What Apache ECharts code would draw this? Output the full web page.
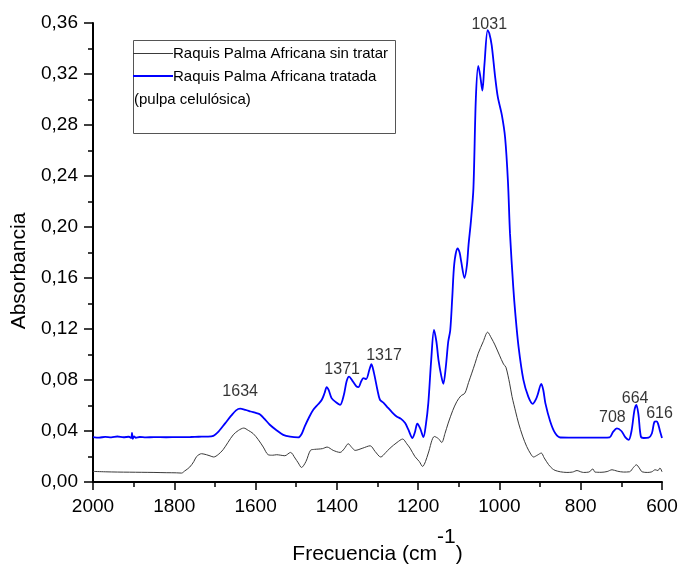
<!DOCTYPE html>
<html>
<head>
<meta charset="utf-8">
<script src="https://cdn.jsdelivr.net/npm/echarts@6/dist/echarts.min.js"></script>
<style>
  html, body { margin: 0; padding: 0; background: #fff; }
  #chart { width: 678px; height: 566px; }
</style>
</head>
<body>
<div id="chart"></div>
<script>
// FTIR spectra of African palm rachis, untreated vs treated (cellulose pulp)

// Untreated sample: wavenumber (cm-1) and absorbance
const untreatedWn = [2000, 1970, 1940, 1910, 1880, 1850, 1820, 1795, 1782, 1775, 1762, 1752, 1745, 1733, 1721, 1712, 1703, 1692, 1680, 1668, 1655, 1642, 1629, 1618, 1606, 1594, 1581, 1569, 1558, 1548, 1538, 1528, 1514, 1503, 1495, 1487, 1476, 1465, 1455, 1446, 1435, 1424, 1409, 1392, 1382, 1372, 1363, 1355, 1336, 1318, 1306, 1292, 1280, 1269, 1252, 1238, 1228, 1220, 1208, 1197, 1189, 1182, 1175, 1160, 1150, 1142, 1134, 1126, 1115, 1105, 1095, 1085, 1076, 1068, 1060, 1052, 1040, 1029, 1020, 1011, 1000, 990, 984, 975, 969, 960, 953, 943, 933, 923, 916, 907, 897, 890, 879, 870, 863, 850, 834, 820, 809, 800, 793, 780, 770, 765, 750, 735, 723, 710, 695, 680, 670, 663, 656, 649, 635, 625, 617, 610, 605, 600];
const untreatedAbs = [0.0083, 0.0080, 0.0078, 0.0077, 0.0076, 0.0075, 0.0073, 0.0072, 0.0070, 0.0085, 0.0117, 0.0160, 0.0200, 0.0222, 0.0214, 0.0205, 0.0196, 0.0215, 0.0253, 0.0310, 0.0370, 0.0405, 0.0423, 0.0405, 0.0380, 0.0335, 0.0274, 0.0214, 0.0210, 0.0214, 0.0210, 0.0206, 0.0232, 0.0188, 0.0150, 0.0114, 0.0161, 0.0248, 0.0256, 0.0258, 0.0262, 0.0274, 0.0248, 0.0232, 0.0260, 0.0300, 0.0270, 0.0248, 0.0266, 0.0284, 0.0240, 0.0196, 0.0230, 0.0266, 0.0310, 0.0337, 0.0300, 0.0266, 0.0200, 0.0160, 0.0122, 0.0160, 0.0227, 0.0357, 0.0340, 0.0310, 0.0380, 0.0462, 0.0560, 0.0630, 0.0675, 0.0697, 0.0780, 0.0854, 0.0930, 0.1010, 0.1100, 0.1175, 0.1130, 0.1075, 0.0995, 0.0925, 0.0900, 0.0775, 0.0670, 0.0550, 0.0462, 0.0360, 0.0279, 0.0220, 0.0196, 0.0210, 0.0227, 0.0190, 0.0136, 0.0105, 0.0091, 0.0080, 0.0075, 0.0078, 0.0090, 0.0080, 0.0075, 0.0078, 0.0102, 0.0078, 0.0076, 0.0082, 0.0096, 0.0085, 0.0078, 0.0080, 0.0115, 0.0135, 0.0110, 0.0080, 0.0075, 0.0080, 0.0096, 0.0090, 0.0110, 0.0080];

// Treated sample (cellulose pulp): wavenumber (cm-1) and absorbance
const treatedWn = [2000, 1985, 1970, 1955, 1940, 1925, 1912, 1906, 1904, 1902, 1899, 1895, 1885, 1870, 1850, 1820, 1790, 1760, 1740, 1720, 1704, 1690, 1675, 1660, 1648, 1638, 1625, 1612, 1598, 1589, 1578, 1565, 1550, 1532, 1515, 1495, 1487, 1479, 1468, 1458, 1446, 1437, 1430, 1425, 1420, 1413, 1402, 1392, 1383, 1376, 1370, 1362, 1352, 1347, 1340, 1335, 1328, 1320, 1315, 1309, 1300, 1294, 1285, 1277, 1265, 1253, 1242, 1232, 1224, 1214, 1208, 1202, 1195, 1187, 1181, 1175, 1168, 1161, 1155, 1150, 1143, 1138, 1132, 1126, 1121, 1116, 1111, 1103, 1098, 1094, 1086, 1080, 1076, 1070, 1064, 1058, 1052, 1047, 1042, 1037, 1029, 1025, 1019, 1011, 1004, 994, 986, 979, 974, 966, 961, 953, 941, 929, 918, 910, 906, 897, 892, 887, 875, 863, 850, 830, 800, 770, 745, 729, 720, 711, 700, 690, 682, 675, 668, 663, 658, 652, 645, 633, 625, 619, 614, 610, 605, 600];
const treatedAbs = [0.0352, 0.0348, 0.0354, 0.0350, 0.0357, 0.0351, 0.0355, 0.0345, 0.0385, 0.0338, 0.0358, 0.0347, 0.0353, 0.0350, 0.0352, 0.0351, 0.0352, 0.0353, 0.0355, 0.0356, 0.0362, 0.0400, 0.0460, 0.0520, 0.0562, 0.0575, 0.0566, 0.0553, 0.0540, 0.0530, 0.0495, 0.0449, 0.0410, 0.0370, 0.0355, 0.0350, 0.0375, 0.0436, 0.0510, 0.0566, 0.0610, 0.0645, 0.0700, 0.0744, 0.0720, 0.0658, 0.0625, 0.0605, 0.0680, 0.0790, 0.0827, 0.0795, 0.0750, 0.0744, 0.0790, 0.0815, 0.0807, 0.0880, 0.0924, 0.0860, 0.0720, 0.0645, 0.0620, 0.0592, 0.0550, 0.0514, 0.0495, 0.0462, 0.0410, 0.0345, 0.0390, 0.0457, 0.0420, 0.0352, 0.0450, 0.0619, 0.0950, 0.1193, 0.1100, 0.0958, 0.0830, 0.0770, 0.0900, 0.1100, 0.1190, 0.1450, 0.1715, 0.1833, 0.1800, 0.1728, 0.1600, 0.1700, 0.1860, 0.2050, 0.2303, 0.3008, 0.3263, 0.3180, 0.3070, 0.3269, 0.3543, 0.3520, 0.3425, 0.3190, 0.3020, 0.2877, 0.2700, 0.2355, 0.1950, 0.1530, 0.1324, 0.1062, 0.0801, 0.0670, 0.0613, 0.0650, 0.0684, 0.0770, 0.0720, 0.0619, 0.0475, 0.0384, 0.0349, 0.0348, 0.0348, 0.0348, 0.0348, 0.0350, 0.0395, 0.0420, 0.0400, 0.0350, 0.0331, 0.0400, 0.0560, 0.0605, 0.0530, 0.0357, 0.0345, 0.0348, 0.0380, 0.0470, 0.0475, 0.0460, 0.0400, 0.0345];

// Peak annotations: text and where it sits (wavenumber, absorbance)
const peakText = ['1634', '1371', '1317', '1031', '708', '664', '616'];
const peakTextWn = [1638, 1387, 1284, 1025, 722, 666, 606];
const peakTextAbs = [0.0710, 0.0880, 0.0995, 0.3587, 0.0509, 0.0658, 0.0533];

// Axis ranges and ticks
const xMin = 600, xMax = 2000, xStep = 200;
const yMin = 0, yMax = 0.36, yStep = 0.04;

const seriesNames = ['Raquis Palma Africana sin tratar', 'Raquis Palma Africana tratada', '(pulpa celulósica)'];

const FONT = 'Liberation Sans, Arial, sans-serif';

const pair = (xs, ys) => xs.map((x, i) => [x, ys[i]]);

const chart = echarts.init(document.getElementById('chart'), null, { renderer: 'canvas' });

chart.setOption({
  backgroundColor: '#ffffff',
  animation: false,
  grid: { left: 93, right: 16, top: 23, bottom: 84, containLabel: false, outerBoundsMode: 'none' },
  xAxis: {
    type: 'value',
    inverse: true,
    min: xMin, max: xMax, interval: xStep,
    name: '{a|Frecuencia (cm}{s|-1}{a|)}',
    nameLocation: 'middle',
    nameGap: 45,
    nameTextStyle: {
      rich: {
        a: { fontFamily: FONT, fontSize: 21, color: '#000', verticalAlign: 'bottom' },
        s: { fontFamily: FONT, fontSize: 21, color: '#000', verticalAlign: 'top', padding: [0, 0, 17, 0] }
      }
    },
    axisLine: { show: true, onZero: false, lineStyle: { color: '#000', width: 2 } },
    axisTick: { show: true, inside: false, length: 8, lineStyle: { color: '#000', width: 1.5 } },
    minorTick: { show: true, splitNumber: 2, length: 5, lineStyle: { color: '#000', width: 1.5 } },
    splitLine: { show: false },
    axisLabel: {
      fontFamily: FONT, fontSize: 19, color: '#000', margin: 15,
      formatter: v => String(v)
    }
  },
  yAxis: {
    type: 'value',
    min: yMin, max: yMax, interval: yStep,
    axisLine: { show: true, onZero: false, lineStyle: { color: '#000', width: 2 } },
    axisTick: { show: true, inside: false, length: 9, lineStyle: { color: '#000', width: 1.5 } },
    minorTick: { show: true, splitNumber: 2, length: 5, lineStyle: { color: '#000', width: 1.5 } },
    splitLine: { show: false },
    axisLabel: {
      fontFamily: FONT, fontSize: 19, color: '#000', margin: 15,
      formatter: v => v.toFixed(2).replace('.', ',')
    }
  },
  series: [
    {
      name: seriesNames[0],
      type: 'line',
      data: pair(untreatedWn, untreatedAbs),
      showSymbol: false,
      smooth: 0.3,
      lineStyle: { color: '#3a3a3a', width: 1 },
      z: 2
    },
    {
      name: seriesNames[1],
      type: 'line',
      data: pair(treatedWn, treatedAbs),
      showSymbol: false,
      smooth: 0.3,
      lineStyle: { color: '#0000ff', width: 1.8 },
      z: 3
    },
    {
      name: 'peaks',
      type: 'scatter',
      symbolSize: 0,
      silent: true,
      data: peakText.map((t, i) => ({ name: t, value: [peakTextWn[i], peakTextAbs[i]] })),
      label: {
        show: true, position: 'inside', formatter: p => p.name,
        fontFamily: FONT, fontSize: 16, color: '#000', textBorderWidth: 0
      },
      z: 4
    }
  ],
  graphic: [
    {
      type: 'text', x: 19, y: 271, rotation: Math.PI / 2,
      style: { text: 'Absorbancia', fontFamily: FONT, fontSize: 21, fill: '#000', align: 'center', verticalAlign: 'middle' }
    },
    {
      type: 'rect', shape: { x: 133.5, y: 40.5, width: 262, height: 93 },
      style: { fill: 'rgba(0,0,0,0)', stroke: '#555', lineWidth: 1 }
    },
    {
      type: 'line', shape: { x1: 133, y1: 53.5, x2: 173, y2: 53.5 },
      style: { stroke: '#3a3a3a', lineWidth: 1 }
    },
    {
      type: 'line', shape: { x1: 133, y1: 76, x2: 173, y2: 76 },
      style: { stroke: '#0000ff', lineWidth: 1.8 }
    },
    {
      type: 'text', x: 173, y: 54,
      style: { text: seriesNames[0], fontFamily: FONT, fontSize: 15, fill: '#000', align: 'left', verticalAlign: 'middle' }
    },
    {
      type: 'text', x: 173, y: 77,
      style: { text: seriesNames[1], fontFamily: FONT, fontSize: 15, fill: '#000', align: 'left', verticalAlign: 'middle' }
    },
    {
      type: 'text', x: 134, y: 100,
      style: { text: seriesNames[2], fontFamily: FONT, fontSize: 15, fill: '#000', align: 'left', verticalAlign: 'middle' }
    }
  ]
});
</script>
</body>
</html>
